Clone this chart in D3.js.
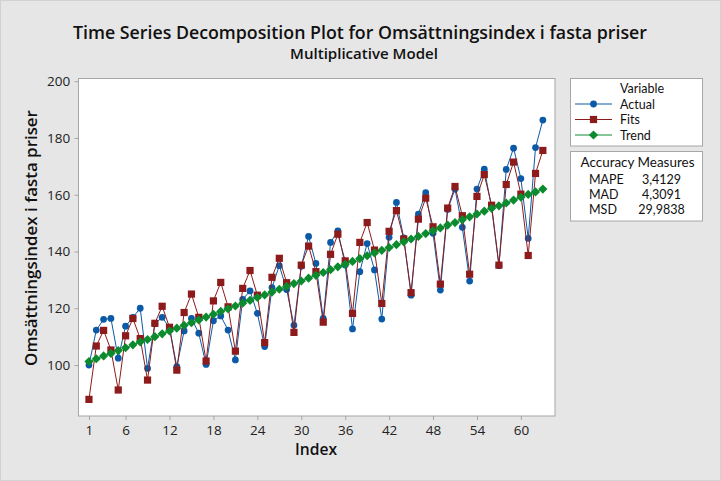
<!DOCTYPE html>
<html><head><meta charset="utf-8">
<script src="https://cdn.jsdelivr.net/npm/d3@7"></script>
<style>
html,body{margin:0;padding:0;background:#e6e6e6;}
svg{display:block;font-family:"Open Sans","Noto Sans",sans-serif;}
</style></head>
<body>
<svg id="chart" width="721" height="481"></svg>
<script>
const titleText = "Time Series Decomposition Plot for Omsättningsindex i fasta priser";
const subtitleText = "Multiplicative Model";
const yLabel = "Omsättningsindex i fasta priser";
const xLabel = "Index";
const xTicks = [1, 6, 12, 18, 24, 30, 36, 42, 48, 54, 60];
const yTicks = [100, 120, 140, 160, 180, 200];
const seriesNames = ["Actual", "Fits", "Trend"];
const accuracyNames = ["MAPE", "MAD", "MSD"];
const accuracyValues = ["3,4129", "4,3091", "29,9838"];

const actual = [100,112.3,116.1,116.4,102.4,113.7,116.8,120.0,98.8,114.5,
  116.8,113.2,99.4,112.0,116.4,111.2,100.2,115.6,117.3,112.3,
  101.8,123.1,126.1,118.2,106.5,127.3,135.0,126.6,114.0,134.8,
  145.3,135.8,116.4,143.2,147.3,135.2,112.7,132.9,142.8,133.5,
  116.2,145.0,157.3,144.8,124.6,153.2,160.7,146.4,126.4,154.8,
  162.0,148.5,129.6,162.0,169.0,155.5,135.0,168.9,176.4,165.7,
  144.6,176.6,186.3];
const fits = [87.9,106.7,112.2,105.3,91.2,110.3,116.4,109.3,94.7,114.7,
  120.7,113.3,98.2,118.5,125.0,116.8,101.4,122.6,129.1,120.5,
  104.9,127.0,133.3,124.6,107.9,130.9,137.6,129.0,111.5,135.2,
  141.9,132.9,115.1,139.0,146.1,136.7,118.2,143.2,150.2,140.5,
  121.7,147.1,154.4,144.4,125.5,151.4,158.8,148.7,128.5,155.3,
  162.9,152.6,132.0,159.4,167.1,156.3,135.2,163.6,171.5,160.2,
  138.6,167.5,175.6];
const trend = [101.2,102.2,103.2,104.1,105.1,106.1,107.1,108.1,109.0,110.0,
  111.0,112.0,113.0,114.0,114.9,115.9,116.9,117.9,118.9,119.8,
  120.8,121.8,122.8,123.8,124.7,125.7,126.7,127.7,128.7,129.6,
  130.6,131.6,132.6,133.6,134.6,135.5,136.5,137.5,138.5,139.5,
  140.4,141.4,142.4,143.4,144.4,145.3,146.3,147.3,148.3,149.3,
  150.2,151.2,152.2,153.2,154.2,155.2,156.1,157.1,158.1,159.1,
  160.1,161.0,162.0];
const indexVals = d3.range(1, actual.length + 1);

const colors = {Actual: "#0b5aa8", Fits: "#8e1b1b", Trend: "#0c8a2e"};

const svg = d3.select("#chart");
const W = 721, H = 481;
svg.append("rect").attr("x",0.5).attr("y",0.5).attr("width",W-1).attr("height",H-1)
  .attr("fill","#e6e6e6").attr("stroke","#d2d2d2");

const plot = {left: 78.5, top: 78.5, right: 555, bottom: 416};
const x = d3.scaleLinear().domain([-0.43, 64.66]).range([plot.left, plot.right]);
const y = d3.scaleLinear().domain([82.04, 200.95]).range([plot.bottom, plot.top]);

svg.append("rect").attr("x",plot.left).attr("y",plot.top)
  .attr("width",plot.right-plot.left).attr("height",plot.bottom-plot.top)
  .attr("fill","#fff").attr("stroke","#a6a6a6").attr("stroke-width",1);

function fitText(sel, target){
  const n = sel.node();
  const w = n.getComputedTextLength();
  const fs = parseFloat(sel.attr("font-size"));
  sel.attr("font-size", (fs*target/w).toFixed(2));
}

// titles
const t1 = svg.append("text").attr("x",360).attr("y",39).attr("text-anchor","middle")
  .attr("font-size",17).attr("font-weight",600).attr("fill","#111").text(titleText);
fitText(t1, 574);
const t2 = svg.append("text").attr("x",364).attr("y",59).attr("text-anchor","middle")
  .attr("font-size",14).attr("font-weight",600).attr("fill","#111").text(subtitleText);
fitText(t2, 148);

// axes
const xAxis = d3.axisBottom(x).tickValues(xTicks).tickSize(4).tickSizeOuter(0);
const gx = svg.append("g").attr("transform",`translate(0,${plot.bottom})`).call(xAxis);
gx.select(".domain").remove();
gx.selectAll(".tick line").attr("stroke","#a6a6a6");
gx.selectAll(".tick text").attr("font-size",13.5).attr("fill","#222")
  .attr("font-family","'Open Sans','Noto Sans',sans-serif").attr("dy","0.9em");

const yAxis = d3.axisLeft(y).tickValues(yTicks).tickSize(4).tickSizeOuter(0);
const gy = svg.append("g").attr("transform",`translate(${plot.left},0)`).call(yAxis);
gy.select(".domain").remove();
gy.selectAll(".tick line").attr("stroke","#a6a6a6");
gy.selectAll(".tick text").attr("font-size",13.5).attr("fill","#222")
  .attr("font-family","'Open Sans','Noto Sans',sans-serif").attr("dx","-0.1em");

const xl = svg.append("text").attr("x",316).attr("y",455).attr("text-anchor","middle")
  .attr("font-size",16).attr("font-weight",600).attr("fill","#111").text(xLabel);
fitText(xl, 42);
const yl = svg.append("text").attr("transform",`translate(37,238) rotate(-90)`)
  .attr("text-anchor","middle").attr("font-size",16).attr("font-weight",600)
  .attr("fill","#111").text(yLabel);
fitText(yl, 256);

// series
const data = indexVals.map((d,i)=>({i:d, Actual:actual[i], Fits:fits[i], Trend:trend[i]}));
const g = svg.append("g");
const diamond = {draw(ctx, size){ const r = Math.sqrt(size/2); ctx.moveTo(0,-r); ctx.lineTo(r,0); ctx.lineTo(0,r); ctx.lineTo(-r,0); ctx.closePath(); }};
const sym = {
  Actual: d3.symbol().type(d3.symbolCircle).size(36),
  Fits: d3.symbol().type(d3.symbolSquare).size(52),
  Trend: d3.symbol().type(diamond).size(42)
};
seriesNames.forEach(name=>{
  const line = d3.line().x(d=>x(d.i)).y(d=>y(d[name]));
  g.append("path").datum(data).attr("d",line).attr("fill","none")
    .attr("stroke",colors[name]).attr("stroke-width",1);
  g.selectAll(".m"+name).data(data).enter().append("path")
    .attr("transform",d=>`translate(${x(d.i)},${y(d[name])})`)
    .attr("d",sym[name]()).attr("fill",colors[name]);
});

// legend box
const lf = "Lato, 'Open Sans', sans-serif";
const lg = svg.append("g").attr("font-family", lf);
lg.append("rect").attr("x",570.5).attr("y",78.5).attr("width",132).attr("height",67.5)
  .attr("fill","#fff").attr("stroke","#a6a6a6");
lg.append("text").attr("x",620).attr("y",93).attr("font-size",12.5).attr("fill","#111").text("Variable");
seriesNames.forEach((name,k)=>{
  const yy = 104 + k*15.5;
  lg.append("line").attr("x1",575).attr("x2",612).attr("y1",yy).attr("y2",yy)
    .attr("stroke",colors[name]).attr("stroke-width",1);
  lg.append("path").attr("transform",`translate(593.5,${yy})`).attr("d",sym[name]()).attr("fill",colors[name]);
  lg.append("text").attr("x",620).attr("y",yy+4.5).attr("font-size",12.5).attr("fill","#111").text(name);
});

lg.append("rect").attr("x",570.5).attr("y",151.5).attr("width",132).attr("height",69.5)
  .attr("fill","#fff").attr("stroke","#a6a6a6");
const am = lg.append("text").attr("x",637.5).attr("y",167).attr("text-anchor","middle")
  .attr("font-size",12.5).attr("fill","#111").text("Accuracy Measures");
fitText(am, 114);
accuracyNames.forEach((name,k)=>{
  const yy = 183.5 + k*15;
  lg.append("text").attr("x",589).attr("y",yy).attr("font-size",12.5).attr("fill","#111").text(name);
  lg.append("text").attr("x",661.5).attr("y",yy).attr("text-anchor","middle")
    .attr("font-size",12.5).attr("fill","#111").text(accuracyValues[k]);
});
</script>
</body></html>
